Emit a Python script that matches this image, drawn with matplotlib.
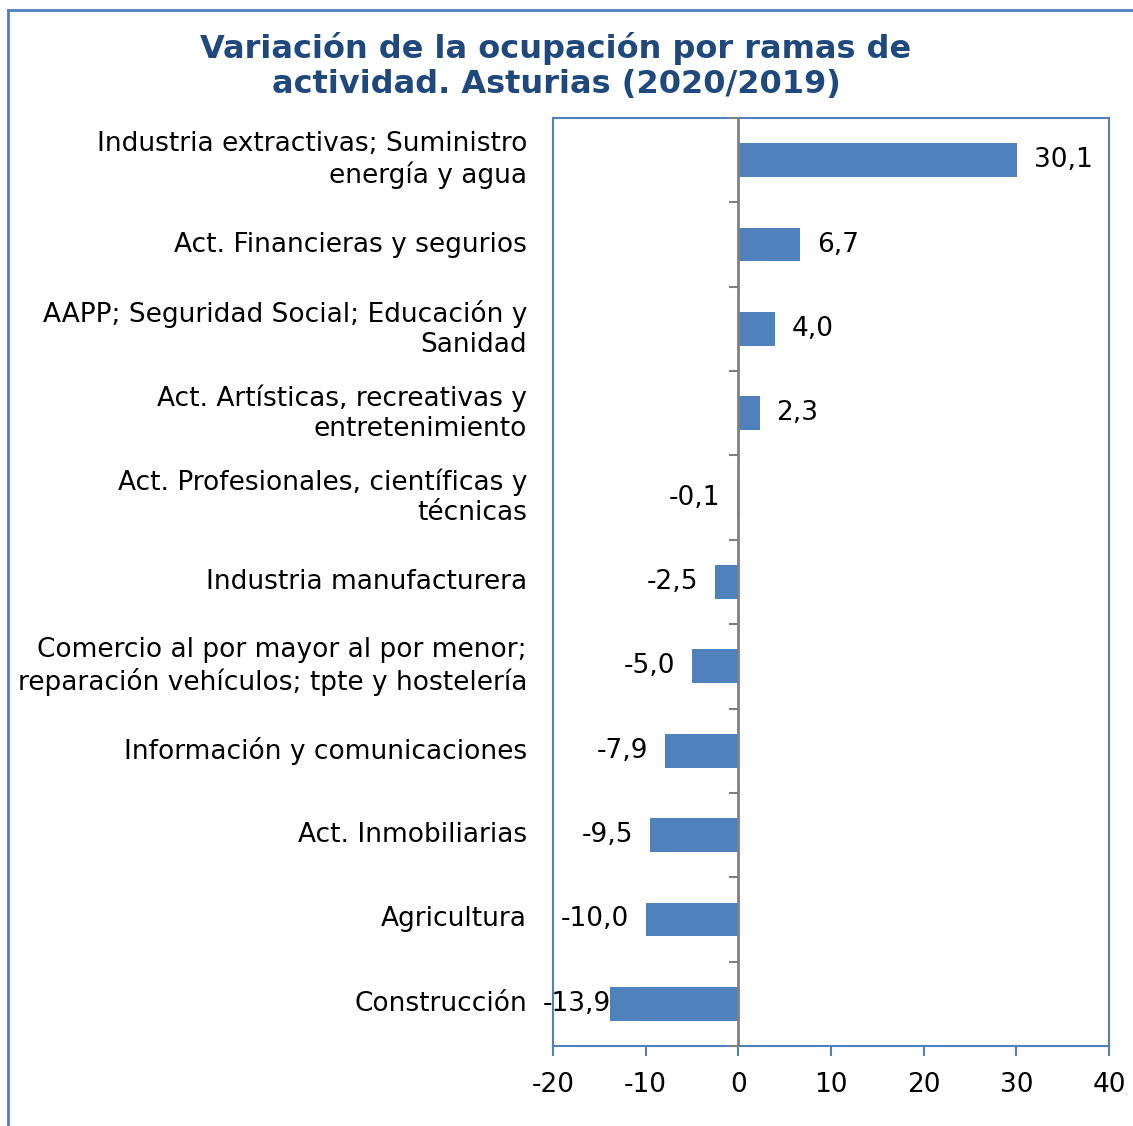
import matplotlib.pyplot as plt
from matplotlib.lines import Line2D

plt.rcParams['font.family'] = ['DejaVu Sans']

categories = [
    "Industria extractivas; Suministro\nenergía y agua",
    "Act. Financieras y segurios",
    "AAPP; Seguridad Social; Educación y\nSanidad",
    "Act. Artísticas, recreativas y\nentretenimiento",
    "Act. Profesionales, científicas y\ntécnicas",
    "Industria manufacturera",
    "Comercio al por mayor al por menor;\nreparación vehículos; tpte y hostelería",
    "Información y comunicaciones",
    "Act. Inmobiliarias",
    "Agricultura",
    "Construcción",
]
values = [30.1, 6.7, 4.0, 2.3, -0.1, -2.5, -5.0, -7.9, -9.5, -10.0, -13.9]
xticks = [-20, -10, 0, 10, 20, 30, 40]

blue = "#4F81BD"
title_blue = "#1F497D"

fig = plt.figure(figsize=(11.33, 11.26), dpi=100)
W, H = 1133, 1126
ax = fig.add_axes([553 / W, 1 - 1046 / H, (1109 - 553) / W, (1046 - 118) / H])

ypos = list(range(len(categories)))
ax.barh(ypos, values, height=0.4, color=blue, zorder=2)
ax.set_xlim(-20, 40)
ax.set_ylim(len(categories) - 0.5, -0.5)

# zero axis with category ticks
ax.axvline(0, color="#808080", lw=2, zorder=3)
tick_len = 8 / (1109 - 553) * 60
for b in range(len(categories) + 1):
    yb = b - 0.5
    ax.plot([-tick_len, 0], [yb, yb], color="#808080", lw=1.5, zorder=3, clip_on=False)

ax.set_yticks([])
ax.set_xticks(xticks)
ax.set_xticklabels([str(t) for t in xticks], fontsize=19)
ax.tick_params(axis="x", direction="out", length=7, width=1.5, color=blue, pad=12)
for s in ax.spines.values():
    s.set_color(blue)
    s.set_linewidth(1.5)

for y, lab in zip(ypos, categories):
    ax.text(-22.8, y, lab, ha="right", va="center", fontsize=19, linespacing=1.2,
            transform=ax.transData, clip_on=False)

# data labels, negatives kept from running too far left (like Excel does)
renderer = fig.canvas.get_renderer()
min_left_px = 543
for y, v in zip(ypos, values):
    txt = f"{v:.1f}".replace(".", ",")
    if v >= 0:
        ax.text(v + 1.8, y, txt, ha="left", va="center", fontsize=19, zorder=4)
    else:
        t = ax.text(v - 1.8, y, txt, ha="right", va="center", fontsize=19, zorder=4)
        bb = t.get_window_extent(renderer)
        if bb.x0 < min_left_px:
            shift = (min_left_px - bb.x0) / (ax.get_window_extent(renderer).width / 60)
            t.set_x(v - 1.8 + shift)

fig.text(556 / W, 1 - 66 / H, "Variación de la ocupación por ramas de\nactividad. Asturias (2020/2019)",
         ha="center", va="center", fontsize=23, fontweight="bold", color=title_blue,
         linespacing=1.17)

# outer chart border (left and top visible)
fig.add_artist(Line2D([8 / W, 8 / W], [0, 1 - 10 / H], color=blue, lw=2, transform=fig.transFigure))
fig.add_artist(Line2D([8 / W, 1], [1 - 10 / H, 1 - 10 / H], color=blue, lw=2, transform=fig.transFigure))

fig.savefig("out.png", dpi=100)
